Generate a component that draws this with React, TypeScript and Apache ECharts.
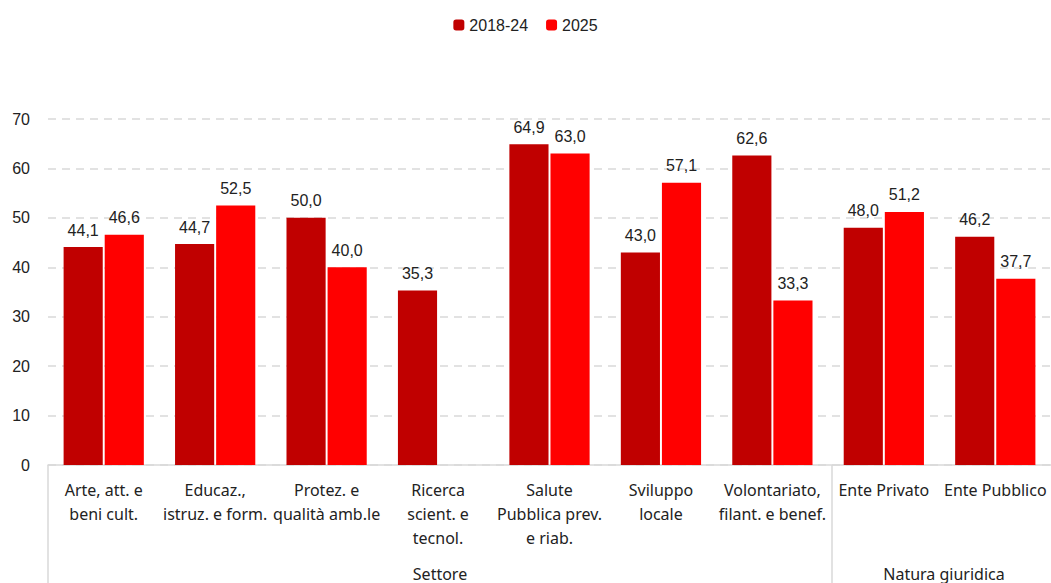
import React, { useEffect, useRef } from "react";
import * as echarts from "echarts";

const categories = [
  "Arte, att. e\nbeni cult.",
  "Educaz.,\nistruz. e form.",
  "Protez. e\nqualità amb.le",
  "Ricerca\nscient. e\ntecnol.",
  "Salute\nPubblica prev.\ne riab.",
  "Sviluppo\nlocale",
  "Volontariato,\nfilant. e benef.",
  "Ente Privato",
  "Ente Pubblico",
];
const series2018_24 = [44.1, 44.7, 50.0, 35.3, 64.9, 43.0, 62.6, 48.0, 46.2];
const series2025: (number | null)[] = [46.6, 52.5, 40.0, null, 63.0, 57.1, 33.3, 51.2, 37.7];
const groups = [
  { name: "Settore", from: 0, to: 7 },
  { name: "Natura giuridica", from: 7, to: 9 },
];

const fmt = (p: any) =>
  p.value == null ? "" : Number(p.value).toFixed(1).replace(".", ",");

export default function App() {
  const ref = useRef<HTMLDivElement>(null);
  useEffect(() => {
    if (!ref.current) return;
    const chart = echarts.init(ref.current, undefined, { renderer: "svg" });
    const gridLeft = 48;
    const catW = 112;
    const gridW = catW * categories.length;
    const option: any = {
      animation: false,
      textStyle: { fontFamily: "Liberation Sans, Arial, sans-serif" },
      legend: {
        top: 12,
        left: "center",
        itemWidth: 11,
        itemHeight: 11,
        itemGap: 18,
        textStyle: { fontSize: 16, color: "#222" },
        data: ["2018-24", "2025"],
      },
      grid: { left: gridLeft, top: 119, width: gridW, bottom: 118, containLabel: false },
      xAxis: {
        type: "category",
        data: categories,
        axisLine: { lineStyle: { color: "#d9d9d9", width: 1.5 } },
        axisTick: { show: false },
        axisLabel: {
          interval: 0,
          fontFamily: "Noto Sans, sans-serif",
          fontSize: 16,
          lineHeight: 24,
          color: "#222",
          margin: 13,
        },
      },
      yAxis: {
        type: "value",
        min: 0,
        max: 70,
        interval: 10,
        axisLine: { show: false },
        axisTick: { show: false },
        axisLabel: { fontSize: 16, color: "#222", margin: 18 },
        splitLine: { lineStyle: { color: "#d9d9d9", type: [8, 6], width: 1.5 } },
      },
      series: [
        {
          name: "2018-24",
          type: "bar",
          data: series2018_24,
          barGap: "5%",
          barCategoryGap: "28%",
          itemStyle: { color: "#C00000" },
          label: { show: true, position: "top", distance: 9, fontSize: 16, color: "#222", formatter: fmt },
        },
        {
          name: "2025",
          type: "bar",
          data: series2025,
          barGap: "5%",
          barCategoryGap: "28%",
          itemStyle: { color: "#FF0000" },
          label: { show: true, position: "top", distance: 9, fontSize: 16, color: "#222", formatter: fmt },
        },
      ],
    };
    chart.setOption(option);

    const axisY = chart.convertToPixel({ yAxisIndex: 0 }, 0) as number;
    const graphics: any[] = [];
    const boundaries = new Set<number>();
    groups.forEach((g) => {
      boundaries.add(g.from);
      boundaries.add(g.to);
    });
    boundaries.forEach((b) => {
      const x = gridLeft + b * catW;
      graphics.push({
        type: "line",
        shape: { x1: x, y1: axisY, x2: x, y2: 583 },
        style: { stroke: "#d9d9d9", lineWidth: 1.5 },
      });
    });
    groups.forEach((g) => {
      const cx = gridLeft + ((g.from + g.to) / 2) * catW;
      graphics.push({
        type: "text",
        x: cx,
        y: 574,
        style: {
          text: g.name,
          fontFamily: "Noto Sans, sans-serif",
          fontSize: 16,
          fill: "#222",
          align: "center",
          verticalAlign: "middle",
        },
      });
    });
    chart.setOption({ graphic: graphics });

    return () => chart.dispose();
  }, []);
  return (
    <div
      ref={ref}
      style={{ position: "fixed", left: 0, top: 0, width: 1051, height: 583, background: "#fff" }}
    />
  );
}
